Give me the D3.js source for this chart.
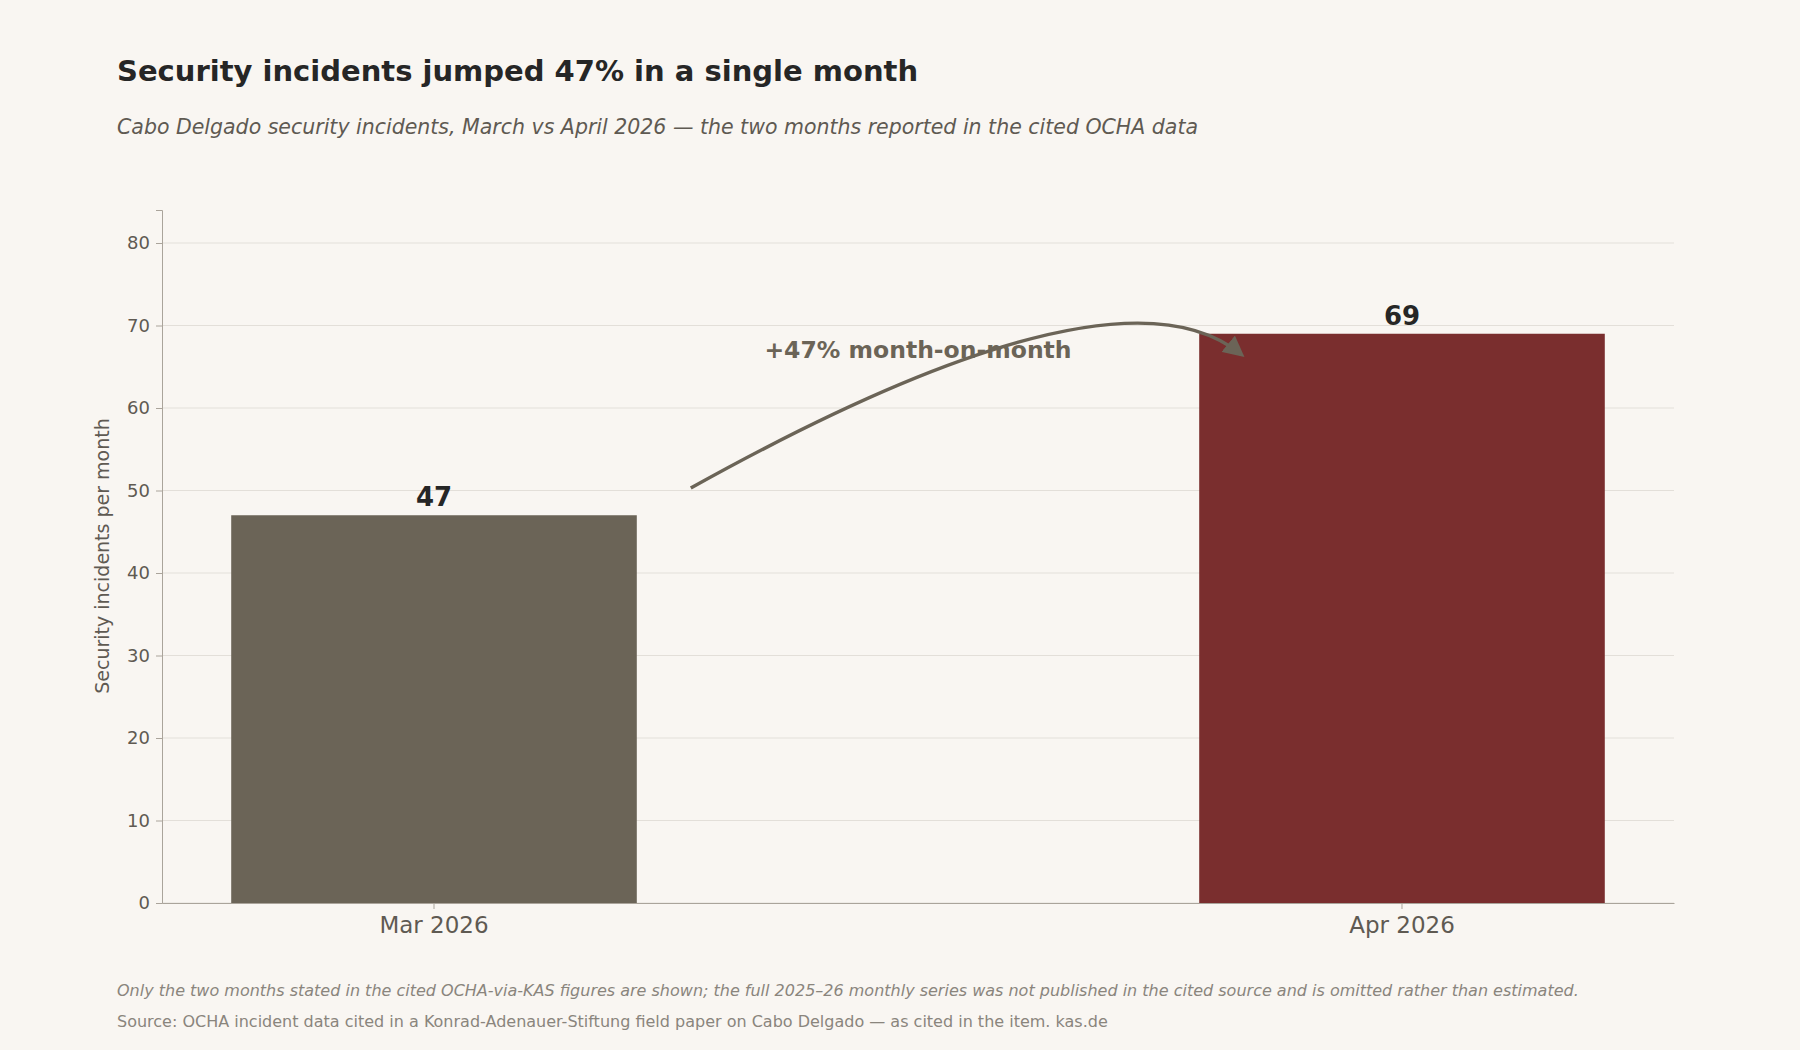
<!DOCTYPE html>
<html><head><meta charset="utf-8">
<script src="https://cdn.jsdelivr.net/npm/d3@7"></script>
<style>body{margin:0;background:#f9f6f2;font-family:"DejaVu Sans",sans-serif}</style>
</head><body><svg id="c" width="1800" height="1050"></svg>
<script>
const categories=["Mar 2026","Apr 2026"];
const values=[47,69];
const colors=["#6b6457","#7a2e2e"];
const yTicks=[0,10,20,30,40,50,60,70,80];
const svg=d3.select("#c");
svg.append("rect").attr("width",1800).attr("height",1050).attr("fill","#f9f6f2");
const L=162,R=1674,T=210,B=903;
const x=d3.scaleBand().domain(categories).range([L,R]).paddingInner(0.581).paddingOuter(0.0715);
const y=d3.scaleLinear().domain([0,84]).range([B,T]);
svg.append("text").attr("x",117).attr("y",81).attr("font-size",29).attr("font-weight","bold").attr("fill","#262626").text("Security incidents jumped 47% in a single month");
svg.append("text").attr("x",117).attr("y",134).attr("font-size",20.5).attr("font-style","italic").attr("fill","#5f5a52").text("Cabo Delgado security incidents, March vs April 2026 — the two months reported in the cited OCHA data");
const g=svg.append("g");
g.selectAll(".gl").data(yTicks).join("line").attr("x1",L).attr("x2",R).attr("y1",d=>y(d)).attr("y2",d=>y(d)).attr("stroke","#e3dfd9").attr("stroke-width",1.2);
const ya=svg.append("g").attr("transform",`translate(${L},0)`).call(d3.axisLeft(y).tickValues(yTicks).tickSize(6).tickPadding(6));
ya.selectAll("text").attr("font-size",18).attr("fill","#5f5a52").attr("font-family","DejaVu Sans");
ya.selectAll("line").attr("stroke","#aaa49b");ya.select(".domain").attr("stroke","#aaa49b");
const xa=svg.append("g").attr("transform",`translate(0,${B})`).call(d3.axisBottom(x).tickSize(6).tickPadding(8).tickSizeOuter(0));
xa.selectAll("text").attr("font-size",23).attr("fill","#5f5a52").attr("font-family","DejaVu Sans");
xa.selectAll("line").attr("stroke","#aaa49b");xa.select(".domain").attr("stroke","#aaa49b");
svg.selectAll(".bar").data(values).join("rect").attr("x",(d,i)=>x(categories[i])).attr("width",x.bandwidth()).attr("y",d=>y(d)).attr("height",d=>B-y(d)).attr("fill",(d,i)=>colors[i]);
svg.selectAll(".vl").data(values).join("text").attr("x",(d,i)=>x(categories[i])+x.bandwidth()/2).attr("y",d=>y(d)-9).attr("text-anchor","middle").attr("font-size",26).attr("font-weight","bold").attr("fill","#262626").text(d=>d);
svg.append("text").attr("transform","translate(109,556) rotate(-90)").attr("text-anchor","middle").attr("font-size",19).attr("fill","#5f5a52").text("Security incidents per month");
// arrow
svg.append("defs").append("marker").attr("id","ah").attr("viewBox","0 0 10 10").attr("refX",8).attr("refY",5).attr("markerWidth",6).attr("markerHeight",6).attr("orient","auto").append("path").attr("d","M0,0L10,5L0,10z").attr("fill","#6b6457");
const x0=x(categories[0])+x.bandwidth()+54,x1=x(categories[1])+42;
const y0=y(50.3),y1=y(66.5);
svg.append("path").attr("d",`M${x0},${y0} Q${(x0+x1)/2+150},${y(79)} ${x1},${y1}`).attr("fill","none").attr("stroke","#6b6457").attr("stroke-width",3.5).attr("marker-end","url(#ah)");
svg.append("text").attr("x",918).attr("y",358).attr("text-anchor","middle").attr("font-size",23.5).attr("font-weight","bold").attr("fill","#6b6457").text("+47% month-on-month");
svg.append("text").attr("x",117).attr("y",996).attr("font-size",16).attr("font-style","italic").attr("fill","#8a857d").text("Only the two months stated in the cited OCHA-via-KAS figures are shown; the full 2025–26 monthly series was not published in the cited source and is omitted rather than estimated.");
svg.append("text").attr("x",117).attr("y",1027).attr("font-size",16).attr("fill","#8a857d").text("Source: OCHA incident data cited in a Konrad-Adenauer-Stiftung field paper on Cabo Delgado — as cited in the item. kas.de");
</script></body></html>
